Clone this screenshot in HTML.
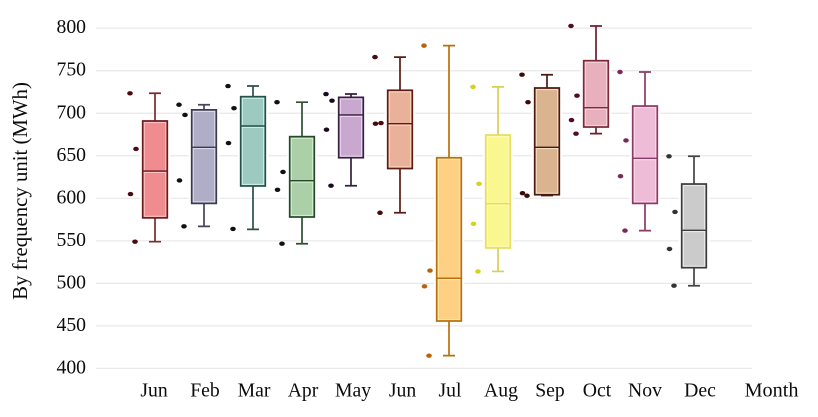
<!DOCTYPE html>
<html lang="en">
<head>
<meta charset="utf-8">
<title>Monthly frequency unit box plot</title>
<style>
html,body{margin:0;padding:0;background:#fff;}
#chart{display:block;width:818px;height:417px;filter:blur(0.35px);}
text{font-family:"Liberation Serif",serif;fill:#0c0c0c;font-size:19.7px;}
</style>
</head>
<body>
<svg id="chart" xmlns="http://www.w3.org/2000/svg" width="818" height="417" viewBox="0 0 818 417">
  <rect x="0" y="0" width="818" height="417" fill="#fff"></rect>
  <g id="grid"></g>
  <g id="yaxis"></g>
  <g id="xaxis"></g>
  <g id="boxes"></g>
  <text id="ytitle" x="0" y="0" transform="translate(27 191) rotate(-90)" text-anchor="middle" style="font-size:20.8px">By frequency unit (MWh)</text>
  <text x="771.5" y="396.7" text-anchor="middle" style="font-size:20.2px">Month</text>
</svg>
<script>
const months = ['Jun','Feb','Mar','Apr','May','Jun','Jul','Aug','Sep','Oct','Nov','Dec'];
const yTicks = [400,450,500,550,600,650,700,750,800];
const whiskerLow = [549,567,563.5,546.6,614.8,583,415,514,603.3,676,562,497.2];
const quartile1 = [577,594,614.5,578,647.7,635,455.7,541.6,604.2,683.8,594,518.4];
const medians = [632,660,685,620.7,698,687.7,506,593.6,660,706.5,647,562.4];
const quartile3 = [690.9,704,719.5,672.5,718.7,727,647.7,674.4,729.7,761.8,708.5,616.8];
const whiskerHigh = [723.5,710,732,713,722.6,766,779.5,731,745.3,802.6,748.5,649.4];
const outliers = [
  [723.5,658,605,549],
  [710,698,621,567],
  [732,706,665,564],
  [713,631,610,546.6],
  [722.6,714.8,680.7,614.8],
  [766,688.5,687.7,583],
  [779.5,515,496.5,415],
  [731,617,570,514],
  [745.3,713,606,603],
  [802.6,720.6,692,676],
  [748.5,668,626,562],
  [649.4,584,540.4,497.2]
];

const strokeColors = ['#6b1a1f','#3b3a4e','#24504c','#28482c','#35203e','#5c1d14','#b8700e','#e6de5c','#4a1a10','#7a2a3c','#8a3a66','#3c3c3c'];
const fillColors = ['#f08c8f','#b0aec6','#9cc9c0','#abcfa6','#c9a8d0','#e9b09a','#fdd084','#fbf790','#d9b48e','#e8b0bc','#efbcd8','#cbcbcb'];
const innerColors = ['#fbc6c6','#dcdcf0','#d4f2ea','#d8f0d0','#f0daf5','#fbdcc5','#ffe8b0','#fdfbb8','#f5e0c5','#f8d8de','#fbdcec','#eeeeee'];
const whiskerColors = ['#7a2a30','#45445a','#2c4f4a','#2f4f33','#35203e','#5c1d14','#b8700e','#d8cf50','#4a1a10','#6a1f30','#8a3a66','#444444'];
const dotColors = ['#4a0a10','#111111','#111111','#111111','#1a0a20','#4a0a0a','#b8650a','#d8d020','#3a0a08','#4e0a28','#7a2a58','#333333'];

const jitter = [-25,-19,-24.5,-20];
const labelNudge = [-1,1,1,1,2,2.5,1,3,3,1,0,6];
const NS = 'http://www.w3.org/2000/svg';

function yScale(v){ return 368.4 - (v - 400) * 0.8505; }
function xScale(i){ return 155 + 49 * i; }
function make(parent, tag, attrs){
  const el = document.createElementNS(NS, tag);
  for (const k in attrs) el.setAttribute(k, attrs[k]);
  parent.appendChild(el);
  return el;
}

const gridG = document.getElementById('grid');
const yG = document.getElementById('yaxis');
const xG = document.getElementById('xaxis');
const boxG = document.getElementById('boxes');

yTicks.forEach(function(t){
  const line = make(gridG, 'line', {x1:96, x2:752, y1:yScale(t), y2:yScale(t), stroke:'#e8e8e8', 'stroke-width':1.2});
  
  
  const label = make(yG, 'text', {x:86, y:yScale(t) + 5, 'text-anchor':'end'});
  label.textContent = t;
  
  
});

months.forEach(function(m, i){
  const label = make(xG, 'text', {x:xScale(i) + labelNudge[i], y:396.7, 'text-anchor':'middle'});
  label.textContent = m;
  
  

  const cx = xScale(i);
  const g = make(boxG, 'g', {});
  
  

  const top = yScale(quartile3[i]);
  const bot = yScale(quartile1[i]);
  const med = yScale(medians[i]);
  const halfW = 12.3;

  const halo = make(g, 'rect', {x:cx - halfW - 3, y:top - 2, width:2 * halfW + 6, height:bot - top + 4, fill:'#fff'});
  
  

  const whisker = make(g, 'path', {
    d:'M' + cx + ' ' + yScale(whiskerHigh[i]) + 'V' + top +
      'M' + cx + ' ' + bot + 'V' + yScale(whiskerLow[i]) +
      'M' + (cx - 6) + ' ' + yScale(whiskerHigh[i]) + 'H' + (cx + 6) +
      'M' + (cx - 6) + ' ' + yScale(whiskerLow[i]) + 'H' + (cx + 6),
    fill:'none', stroke:whiskerColors[i], 'stroke-width':1.7
  });
  
  

  const box = make(g, 'rect', {x:cx - halfW, y:top, width:2 * halfW, height:bot - top, fill:fillColors[i], stroke:strokeColors[i], 'stroke-width':1.7});
  
  

  const inner = make(g, 'rect', {x:cx - halfW + 1.6, y:top + 1.6, width:2 * halfW - 3.2, height:Math.max(bot - top - 3.2, 0), fill:'none', stroke:innerColors[i], 'stroke-width':1});
  
  

  const medGlow = make(g, 'line', {x1:cx - halfW + 1, x2:cx + halfW - 1, y1:med + 1.4, y2:med + 1.4, stroke:innerColors[i], 'stroke-width':1});
  
  

  const medLine = make(g, 'line', {x1:cx - halfW, x2:cx + halfW, y1:med, y2:med, stroke:strokeColors[i], 'stroke-width':1.4});
  
  

  outliers[i].forEach(function(v, j){
    const dot = make(g, 'ellipse', {cx:cx + jitter[j], cy:yScale(v), rx:2.8, ry:2.2, fill:dotColors[i]});
    
    
  });
});
</script>
</body>
</html>
